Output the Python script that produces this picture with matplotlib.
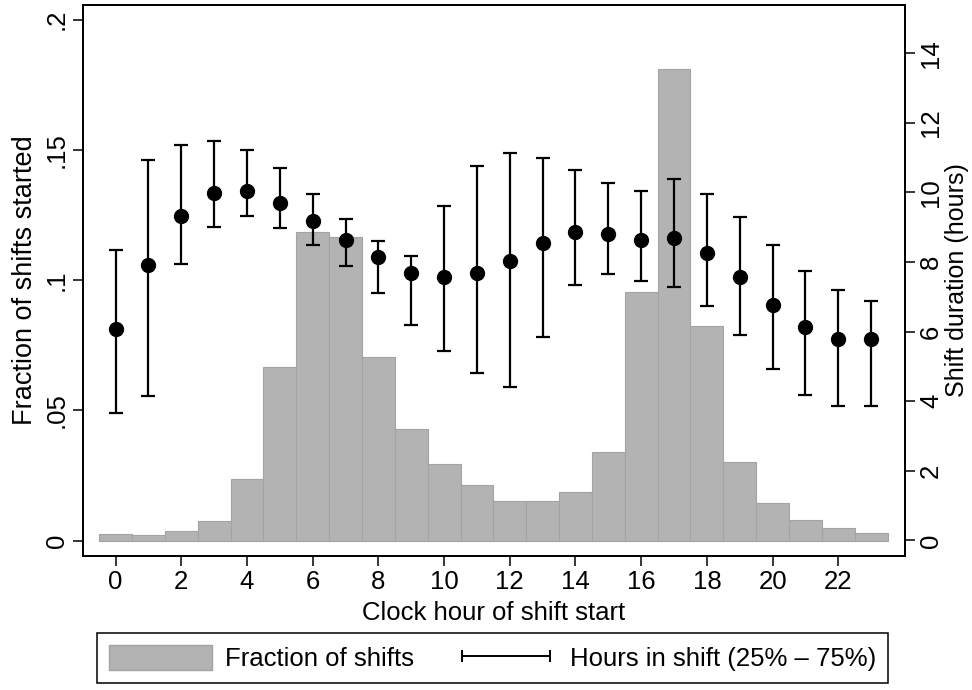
import numpy as np
import matplotlib
matplotlib.use("Agg")
import matplotlib.pyplot as plt
from matplotlib.lines import Line2D
from matplotlib.patches import Patch

plt.rcParams['font.family'] = ['Liberation Sans', 'DejaVu Sans']

# clock hour of shift start
hours = list(range(24))

# fraction of shifts started in each hour (bars, left axis)
frac = [0.0024, 0.0023, 0.0036, 0.0075, 0.0235, 0.0665, 0.1185, 0.1164,
        0.0706, 0.0427, 0.0293, 0.0212, 0.0154, 0.0151, 0.0185, 0.0341,
        0.0954, 0.1809, 0.0825, 0.0300, 0.0143, 0.0079, 0.0047, 0.0029]

# shift duration in hours: median, 25th and 75th percentile (right axis)
dur_med = [6.08, 7.93, 9.33, 9.98, 10.05, 9.69, 9.17, 8.63,
           8.15, 7.70, 7.58, 7.70, 8.02, 8.55, 8.87, 8.82,
           8.63, 8.68, 8.25, 7.57, 6.77, 6.12, 5.80, 5.80]
dur_p25 = [3.67, 4.14, 7.95, 9.02, 9.32, 8.99, 8.50, 7.88,
           7.10, 6.18, 5.43, 4.80, 4.41, 5.85, 7.35, 7.66,
           7.46, 7.27, 6.73, 5.89, 4.92, 4.17, 3.86, 3.86]
dur_p75 = [8.34, 10.94, 11.36, 11.49, 11.21, 10.70, 9.96, 9.25,
           8.60, 8.18, 9.60, 10.77, 11.13, 10.99, 10.64, 10.26,
           10.05, 10.38, 9.97, 9.30, 8.49, 7.74, 7.21, 6.88]

left_ticks = [0, 0.05, 0.1, 0.15, 0.2]
left_labels = ['0', '.05', '.1', '.15', '.2']
right_ticks = list(range(0, 15, 2))
x_ticks = list(range(0, 23, 2))

FS = 18.5
bar_col = '#b3b3b3'

fig = plt.figure(figsize=(9.72, 6.9), dpi=100)
ax = fig.add_axes([0.0851, 0.1946, 0.8463, 0.7987])

ax.bar(hours, frac, width=1.0, color=bar_col, edgecolor='#a3a3a3', linewidth=0.8)
ax.set_xlim(-1.0, 24.04)
ax.set_ylim(-0.0058, 0.2058)
ax.set_xticks(x_ticks)
ax.set_yticks(left_ticks)
ax.set_yticklabels(left_labels, rotation=90, va='center')
ax.set_xlabel('Clock hour of shift start', fontsize=FS, labelpad=5)
ax.set_ylabel('Fraction of shifts started', fontsize=19.5, labelpad=5)

ax2 = ax.twinx()
med = np.array(dur_med)
lo = med - np.array(dur_p25)
hi = np.array(dur_p75) - med
ax2.errorbar(hours, med, yerr=[lo, hi], fmt='o', color='black', ms=10,
             elinewidth=1.6, capsize=5, capthick=1.6)
ax2.set_ylim(-0.44, 15.4)
ax2.set_yticks(right_ticks)
ax2.set_yticklabels([str(t) for t in right_ticks], rotation=90, va='center')
ax2.set_ylabel('Shift duration (hours)', fontsize=18, labelpad=1)

for a in (ax, ax2):
    a.tick_params(labelsize=FS, length=7, width=1.1, direction='out', pad=3)
    for s in a.spines.values():
        s.set_linewidth(1.3)

handles = [Patch(facecolor=bar_col, edgecolor='#a3a3a3'),
           Line2D([], [], color='black', lw=1.4, marker='|', ms=9, mew=1.4)]
leg = fig.legend(handles, ['Fraction of shifts', 'Hours in shift (25% \u2013 75%)'],
                 loc='lower center', bbox_to_anchor=(0.507, -0.008), ncol=2,
                 fontsize=FS, numpoints=2, handlelength=4.0, handleheight=1.1,
                 columnspacing=1.6, handletextpad=0.5, borderpad=0.45,
                 fancybox=False, edgecolor='black', framealpha=1)
leg.get_frame().set_linewidth(1.1)

fig.savefig('out.png', dpi=100)
